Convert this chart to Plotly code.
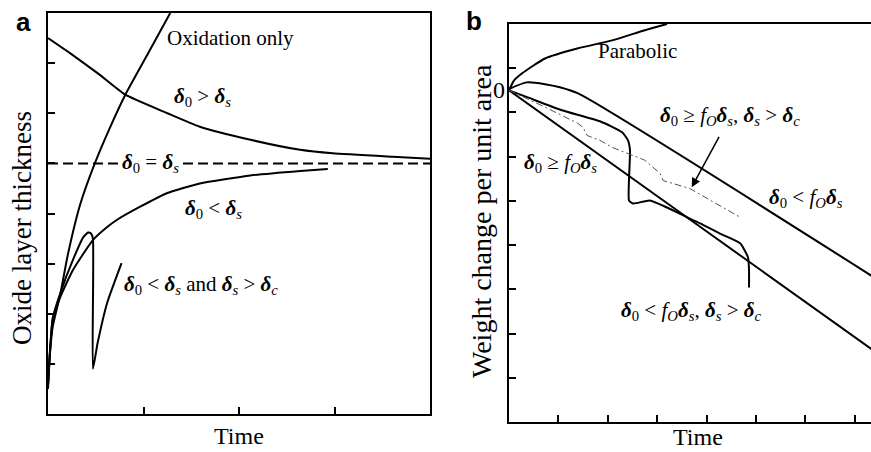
import plotly.graph_objects as go

# ---------------- Panel a data (Time, Oxide layer thickness) ----------------
ox_t = [0, 0.02, 0.05, 0.13, 0.21, 0.34, 0.49, 0.65, 0.81, 1.05, 1.28]
ox_y = [0.5, 1.2, 1.75, 2.4, 3.2, 4.2, 5.0, 5.72, 6.37, 7.2, 8.0]

gt_t = [0, 0.23, 0.54, 0.81, 1.25, 1.59, 2.12, 2.64, 2.98, 3.61, 4.0]
gt_y = [7.5, 7.2, 6.77, 6.37, 6.0, 5.73, 5.47, 5.27, 5.2, 5.13, 5.09]

eq_t = [0, 4.0]
eq_y = [5.0, 5.0]

lt_t = [0, 0.05, 0.13, 0.26, 0.47, 0.62, 0.72, 0.96, 1.25, 1.59, 2.12, 2.64, 2.93]
lt_y = [0.58, 1.88, 2.34, 2.87, 3.47, 3.73, 3.87, 4.13, 4.41, 4.6, 4.76, 4.85, 4.89]

sp_t = [0, 0.05, 0.13, 0.26, 0.37, 0.42, 0.45, 0.47, 0.47, 0.52, 0.62, 0.77]
sp_y = [0.58, 1.92, 2.42, 3.07, 3.53, 3.62, 3.6, 3.5, 0.9, 1.42, 2.22, 3.01]

a_xticks = [1, 2, 3]
a_yticks = [1, 2, 3, 4, 5, 6, 7]

# ---------------- Panel b data (Time, Weight change per unit area) ----------------
par_t = [0, 0.1, 0.26, 0.73, 1.4, 2.09, 2.75, 3.2]
par_y = [0, 0.22, 0.38, 0.72, 0.95, 1.13, 1.36, 1.5]

up_t = [0, 0.36, 0.73, 1.03, 1.4, 7.35]
up_y = [0.03, 0.18, 0.14, 0.07, -0.07, -4.2]

low_t = [0, 3.6, 7.35]
low_y = [0, -2.87, -5.86]

drop_t = [0, 0.38, 1.07, 1.84, 2.29, 2.41, 2.45, 2.43, 2.51, 2.85, 3.2, 3.6, 3.87, 4.27, 4.68, 4.84, 4.86, 4.86]
drop_y = [0, -0.16, -0.45, -0.7, -0.95, -1.13, -1.36, -2.49, -2.56, -2.49, -2.65, -2.87, -3.01, -3.24, -3.46, -3.78, -4.07, -4.46]

dash_t = [0, 0.73, 1.4, 1.5, 1.58, 1.84, 2.09, 2.75, 3.06, 3.12, 3.66, 4.68]
dash_y = [0, -0.38, -0.75, -0.84, -1.02, -1.13, -1.29, -1.58, -1.88, -2.04, -2.22, -2.87]

b_xticks = [1, 2, 3, 4, 5, 6, 7]
b_yticks = [0.5, -0.5, -1.5, -2.5, -3.5, -4.5, -5.5, -6.5]

W, H = 871, 452
SERIF = "Liberation Serif, Times New Roman, serif"


def px_x(p):
    return p / W


def px_y(p):
    return 1 - p / H


fig = go.Figure()
line = dict(color="black", width=2)

for t, y in [(ox_t, ox_y), (gt_t, gt_y), (lt_t, lt_y), (sp_t, sp_y)]:
    fig.add_trace(go.Scatter(x=t, y=y, mode="lines", line=dict(line, shape="spline", smoothing=0.5),
                             xaxis="x", yaxis="y", showlegend=False, hoverinfo="skip"))
fig.add_trace(go.Scatter(x=eq_t, y=eq_y, mode="lines", line=dict(color="black", width=2, dash="10px,5px"),
                         xaxis="x", yaxis="y", showlegend=False, hoverinfo="skip"))

for t, y in [(par_t, par_y), (up_t, up_y), (low_t, low_y)]:
    fig.add_trace(go.Scatter(x=t, y=y, mode="lines", line=dict(line, shape="spline", smoothing=0.6),
                             xaxis="x2", yaxis="y2", showlegend=False, hoverinfo="skip"))
fig.add_trace(go.Scatter(x=drop_t, y=drop_y, mode="lines", line=dict(line, shape="spline", smoothing=0.5),
                         xaxis="x2", yaxis="y2", showlegend=False, hoverinfo="skip"))
fig.add_trace(go.Scatter(x=dash_t, y=dash_y, mode="lines",
                         line=dict(color="#555555", width=1, dash="7px,3px,2px,3px"),
                         xaxis="x2", yaxis="y2", showlegend=False, hoverinfo="skip"))

axis_common = dict(showgrid=False, zeroline=False, showline=True, linecolor="black", linewidth=2,
                   ticks="inside", ticklen=7, tickwidth=1.5, tickcolor="black", showticklabels=False)

fig.update_layout(
    width=W, height=H, margin=dict(l=0, r=0, t=0, b=0),
    plot_bgcolor="white", paper_bgcolor="white",
    xaxis=dict(axis_common, domain=[px_x(48), px_x(430)], range=[0, 4], tickvals=a_xticks,
               mirror=True, anchor="y"),
    yaxis=dict(axis_common, domain=[px_y(414), px_y(13)], range=[0, 8], tickvals=a_yticks,
               mirror=True, anchor="x"),
    xaxis2=dict(axis_common, domain=[px_x(509), 1.0], range=[0, 7.33], tickvals=b_xticks,
                mirror=True, anchor="y2"),
    yaxis2=dict(axis_common, domain=[px_y(422), px_y(24)], range=[-7.5, 1.5], tickvals=b_yticks,
                mirror=False, anchor="x2"),
)


def d(sym, sub, sub_italic=False):
    s = f"<i>{sub}</i>" if sub_italic else sub
    return f"<b><i>{sym}</i></b><sub>{s}</sub>"


d0 = d("δ", "0")
ds = d("δ", "s", True)
dc = d("δ", "c", True)
fO = "<i>f</i><sub><i>O</i></sub>"

ann = []
f_lab = dict(family=SERIF, size=21, color="black")
C = dict(xanchor="center", yanchor="middle", showarrow=False)
# panel a labels
ann.append(dict(C, x=1.91, y=7.5, xref="x", yref="y", text="Oxidation only", font=f_lab))
ann.append(dict(C, x=1.62, y=6.33, xref="x", yref="y", text=f"{d0} &gt; {ds}", font=f_lab))
ann.append(dict(C, x=1.07, y=5.0, xref="x", yref="y", text=f"{d0} = {ds}", font=f_lab,
                bgcolor="white", borderpad=0))
ann.append(dict(C, x=1.73, y=4.09, xref="x", yref="y", text=f"{d0} &lt; {ds}", font=f_lab))
ann.append(dict(C, x=1.60, y=2.57, xref="x", yref="y", text=f"{d0} &lt; {ds} and {ds} &gt; {dc}", font=f_lab))
# panel b labels
ann.append(dict(C, x=2.61, y=0.9, xref="x2", yref="y2", text="Parabolic", font=f_lab))
ann.append(dict(C, x=4.47, y=-0.57, xref="x2", yref="y2", text=f"{d0} ≥ {fO}{ds}, {ds} &gt; {dc}", font=f_lab))
ann.append(dict(C, x=1.05, y=-1.65, xref="x2", yref="y2", text=f"{d0} ≥ {fO}{ds}", font=f_lab))
ann.append(dict(C, x=6.01, y=-2.44, xref="x2", yref="y2", text=f"{d0} &lt; {fO}{ds}", font=f_lab))
ann.append(dict(C, x=3.68, y=-4.98, xref="x2", yref="y2", text=f"{d0} &lt; {fO}{ds}, {ds} &gt; {dc}", font=f_lab))
# arrow
ann.append(dict(x=3.70, y=-2.19, xref="x2", yref="y2", ax=4.27, ay=-1.02, axref="x2", ayref="y2",
                text="", showarrow=True, arrowhead=2, arrowsize=1.2, arrowwidth=1.5, arrowcolor="black"))
# zero label on panel b
ann.append(dict(C, x=px_x(499), y=px_y(90), xref="paper", yref="paper", text="0",
                font=dict(family=SERIF, size=24, color="black")))
# axis titles
ann.append(dict(C, x=px_x(239), y=px_y(436), xref="paper", yref="paper", text="Time",
                font=dict(family=SERIF, size=24, color="black")))
ann.append(dict(C, x=px_x(698), y=px_y(437), xref="paper", yref="paper", text="Time",
                font=dict(family=SERIF, size=24, color="black")))
ann.append(dict(C, x=px_x(22), y=px_y(228), xref="paper", yref="paper", text="Oxide layer thickness",
                textangle=-90, font=dict(family=SERIF, size=27, color="black")))
ann.append(dict(C, x=px_x(482), y=px_y(221), xref="paper", yref="paper", text="Weight change per unit area",
                textangle=-90, font=dict(family=SERIF, size=28, color="black")))
# panel letters
f_letter = dict(family="Liberation Sans, Arial, sans-serif", size=26, color="black")
ann.append(dict(C, x=px_x(23), y=px_y(22), xref="paper", yref="paper", text="<b>a</b>", font=f_letter))
ann.append(dict(C, x=px_x(474), y=px_y(21), xref="paper", yref="paper", text="<b>b</b>", font=f_letter))

fig.update_layout(annotations=ann)
fig.write_html("out.html")
